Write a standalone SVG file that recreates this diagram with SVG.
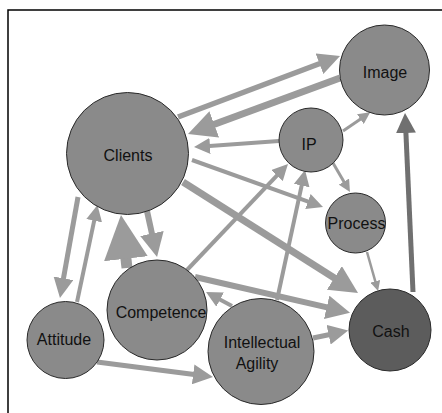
<svg xmlns="http://www.w3.org/2000/svg" width="442" height="413" viewBox="0 0 442 413">
<style>
.c{fill:none;stroke:#9b9b9b;marker-end:url(#ah)}
.d{fill:none;stroke:#707070;marker-end:url(#ahd)}
.n{fill:#8a8a8a;stroke:#2a2a2a;stroke-width:1}
.cash{fill:#5c5c5c;stroke:#2a2a2a;stroke-width:1}
text{font-family:"Liberation Sans",Arial,sans-serif;font-size:16px;fill:#111;text-anchor:middle}
</style>
<defs>
<marker id="ah" viewBox="0 0 10 10" refX="2.5" refY="5" markerWidth="4" markerHeight="4" orient="auto-start-reverse" markerUnits="strokeWidth"><path d="M0,0 L10,5 L0,10 z" fill="#9b9b9b"/></marker>
<marker id="ahd" viewBox="0 0 10 10" refX="2.5" refY="5" markerWidth="4" markerHeight="4" orient="auto" markerUnits="strokeWidth"><path d="M0,0 L10,5 L0,10 z" fill="#707070"/></marker>
</defs>
<rect width="442" height="413" fill="#fff"/>
<path d="M8,413 V10 H442" fill="none" stroke="#000" stroke-width="1.5"/>
<g id="connectors">
<path class="c" d="M178,117 L324.6,61.8" stroke-width="5.5"/>
<path class="c" d="M340,78 L207.7,126.7" stroke-width="7"/>
<path class="c" d="M279,141 L206,146.2" stroke-width="4"/>
<path class="c" d="M343,131 L362.8,117.4" stroke-width="3"/>
<path class="c" d="M333,163 L345.4,184.2" stroke-width="3"/>
<path class="c" d="M192,160 L311.7,202.9" stroke-width="4"/>
<path class="c" d="M183,182 L340.3,281.7" stroke-width="7"/>
<path class="c" d="M187,270 L279.7,172.7" stroke-width="4"/>
<path class="c" d="M277,300 L302.5,181.7" stroke-width="4"/>
<path class="d" d="M413,292 L405.7,128" stroke-width="5"/>
<path class="c" d="M367,252 L376,283.8" stroke-width="2.5"/>
<path class="c" d="M195,277 L332.5,308.7" stroke-width="6"/>
<path class="c" d="M313,338 L333.5,333.7" stroke-width="5"/>
<path class="c" d="M232,306 L216.6,297.7" stroke-width="4"/>
<path class="c" d="M147,211 L153.2,239.4" stroke-width="6"/>
<path class="c" d="M127,268 L124.7,247.8" stroke-width="11"/>
<path class="c" d="M78,197 L62.6,283.2" stroke-width="5"/>
<path class="c" d="M77,302 L95,216.8" stroke-width="4"/>
<path class="c" d="M97,362 L198.1,375" stroke-width="5"/>
</g>
<g id="clients"><circle class="n" cx="127.5" cy="153.5" r="61"/><text x="128" y="161">Clients</text></g>
<g id="image"><circle class="n" cx="384.5" cy="70" r="45"/><text x="385" y="78">Image</text></g>
<g id="ip"><circle class="n" cx="311" cy="140" r="32"/><text x="309" y="150">IP</text></g>
<g id="process"><circle class="n" cx="355.5" cy="223" r="30"/><text x="356.5" y="228.5">Process</text></g>
<g id="cash"><circle class="cash" cx="390" cy="330" r="41"/><text x="391" y="337">Cash</text></g>
<g id="competence"><circle class="n" cx="157" cy="310" r="50"/><text x="161" y="317.5">Competence</text></g>
<g id="intellectual-agility"><circle class="n" cx="261" cy="351.5" r="53"/><text x="262" y="348">Intellectual</text><text x="257" y="368.5">Agility</text></g>
<g id="attitude"><circle class="n" cx="65.5" cy="340" r="38.5"/><text x="64" y="345">Attitude</text></g>
</svg>
